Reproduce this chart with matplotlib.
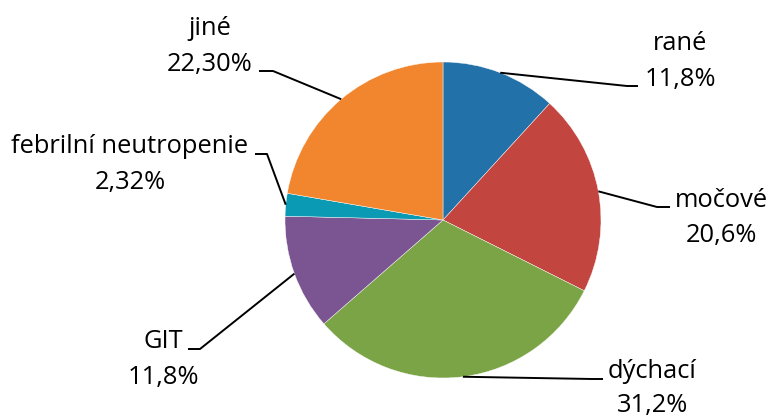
import numpy as np
import matplotlib.pyplot as plt

# --- data ---
labels = ['rané', 'močové', 'dýchací', 'GIT', 'febrilní neutropenie', 'jiné']
values = [11.8, 20.6, 31.2, 11.8, 2.32, 22.30]
pct_text = ['11,8%', '20,6%', '31,2%', '11,8%', '2,32%', '22,30%']
colors = ['#2271A9', '#C3453F', '#7BA446', '#7B5592', '#0B9AB3', '#F2862F']

# --- layout (pixel coords from top-left) ---
W, H = 772, 417
CX, CY, R = 443, 220, 158
# label centre x, baseline of first line, baseline of second line
label_pos = [(680, 50, 86), (721, 207, 242), (652, 378, 412),
             (163, 348, 384), (130, 153, 189), (210, 35, 71)]
# leader line elbow and end
leader = [((627, 86), (638, 86)), ((657, 207), (670, 207)), ((592, 379), (603, 379)),
          ((200, 349), (188, 349)), ((267, 154), (255, 154)), ((273, 71), (259, 71))]

plt.rcParams['font.family'] = ['Open Sans', 'DejaVu Sans']
FS = 18.4

fig = plt.figure(figsize=(W / 100, H / 100), dpi=100)
ax = fig.add_axes([0, 0, 1, 1])
ax.axis('off')

def fy(y):
    return H - y

wedges, _ = ax.pie(values, colors=colors, startangle=90, counterclock=False,
                   center=(CX, fy(CY)), radius=R,
                   wedgeprops=dict(edgecolor='white', linewidth=0.3))
ax.set_xlim(0, W)
ax.set_ylim(0, H)
ax.set_aspect('equal')

# leader lines start at the wedge's mid-angle on the rim
for w, (lx, b1, b2), (el, en), name, pct in zip(wedges, label_pos, leader, labels, pct_text):
    mid = np.deg2rad((w.theta1 + w.theta2) / 2)
    sx = CX + R * np.cos(mid)
    sy = fy(CY) + R * np.sin(mid)
    ax.plot([sx, el[0], en[0]], [sy, fy(el[1]), fy(en[1])], color='black', lw=1.4,
            solid_capstyle='butt')
    ax.text(lx, fy(b1), name, ha='center', va='baseline', fontsize=FS, color='black')
    ax.text(lx, fy(b2), pct, ha='center', va='baseline', fontsize=FS, color='black')

fig.savefig('out.png', dpi=100)
